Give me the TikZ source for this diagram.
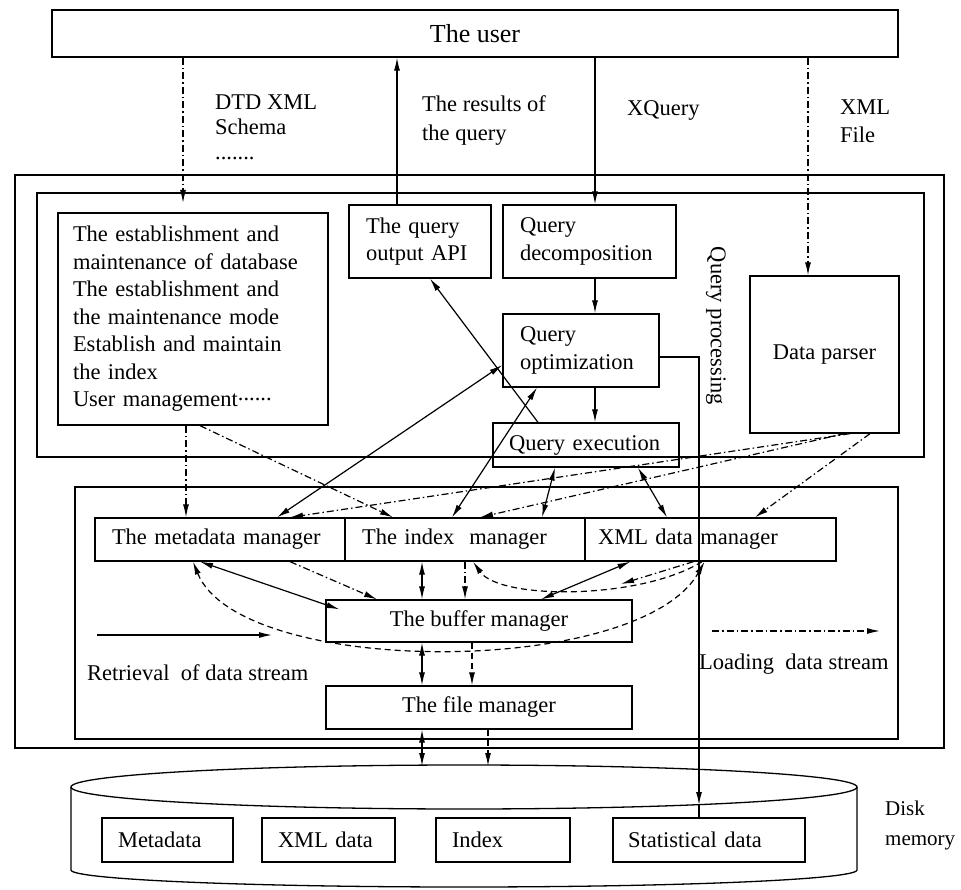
\documentclass[tikz,border=0pt]{standalone}
\usepackage{fontspec}
\setmainfont{Liberation Serif}
\usetikzlibrary{arrows.meta}
\begin{document}
\begin{tikzpicture}[x=1pt,y=-1pt,
  every node/.style={font=\fontsize{22.5}{27.5}\selectfont},
  bx/.style={draw, line width=1.3pt, inner sep=0pt},
  lbx/.style={draw, line width=1.3pt, inner ysep=0pt, inner xsep=17pt, align=left},
  frame/.style={line width=1.3pt},
  ln/.style={line width=1.2pt},
  tip/.style={-{Latex[length=13pt,width=6pt]}},
  dtip/.style={{Latex[length=13pt,width=6pt]}-{Latex[length=13pt,width=6pt]}},
  dd/.style={dash pattern=on 7pt off 3pt on 1.5pt off 3pt},
  dsh/.style={dash pattern=on 6pt off 4pt},
  lbl/.style={anchor=west, align=left, inner sep=0pt}
]
\useasboundingbox (0,0) rectangle (961,890);

% frames
\draw[frame] (15,175) rectangle (944,748);
\draw[frame] (37,193) rectangle (924,457);
\draw[frame] (75,487) rectangle (898,739);

% user
\node[bx, minimum width=846pt, minimum height=47pt, font=\fontsize{26}{30}\selectfont] (user) at (475,33.5) {The user};

% upper boxes
\node[lbx, inner xsep=15pt, text width=240pt, minimum height=212pt] (leftbox) at (193,319)
  {The establishment and\\maintenance of database\\The establishment and\\the maintenance mode\\Establish and maintain\\the index\\User management\raisebox{0.6ex}{......}};
\node[lbx, text width=108pt, minimum height=73pt] (api) at (420,241.5) {The query\\output API};
\node[lbx, text width=139pt, minimum height=73pt] (dec) at (589.5,241.5) {Query\\decomposition};
\node[lbx, text width=122pt, minimum height=73pt] (opt) at (581,350.5) {Query\\optimization};
\node[lbx, inner xsep=16pt, text width=154pt, minimum height=44pt] (exe) at (586,445) {Query execution};
\node[bx, minimum width=149pt, minimum height=157pt] (parser) at (824.5,354.5) {Data parser};
\node[rotate=-90, inner sep=0pt] (qp) at (716,326) {Query processing};

% managers
\node[lbx, text width=216pt, minimum height=43pt] (meta) at (220,539.5) {The metadata manager};
\node[lbx, text width=206pt, minimum height=43pt] (idx) at (465,539.5) {The index\ \ manager};
\node[lbx, inner xsep=13pt, text width=225pt, minimum height=43pt] (xmlm) at (710.5,539.5) {XML data manager};
\node[bx, minimum width=306pt, minimum height=42pt] (buf) at (479,621) {The buffer manager};
\node[bx, minimum width=306pt, minimum height=43pt] (file) at (479,707.5) {The file manager};

% disk
\draw[frame] (464,787) ellipse [x radius=393, y radius=22];
\draw[frame] (71,787) -- (71,870) .. controls (71,879.4) and (247,887) .. (464,887)
   .. controls (681,887) and (857,879.4) .. (857,870) -- (857,787);
\node[lbx, inner xsep=16pt, text width=99pt, minimum height=44pt] (md) at (167.5,840) {Metadata};
\node[lbx, inner xsep=16pt, text width=101pt, minimum height=44pt] (xd) at (328.5,840) {XML data};
\node[lbx, inner xsep=16pt, text width=102pt, minimum height=44pt] (ix) at (503,840) {Index};
\node[lbx, inner xsep=15pt, text width=162pt, minimum height=44pt] (sd) at (709,840) {Statistical data};

% labels
\node[lbl, font=\fontsize{22.5}{25}\selectfont] (dtdl) at (215,127) {DTD XML\\Schema\\.......};
\node[lbl, font=\fontsize{22.5}{29}\selectfont] (resl) at (422,121) {The results of\\the query};
\node[lbl] (xql) at (627,110) {XQuery};
\node[lbl, font=\fontsize{22.5}{28}\selectfont] (xfl) at (840,121) {XML\\File};
\node[lbl] (retl) at (87,673) {Retrieval\ \ of data stream};
\node[lbl] (loadl) at (699,664) {Loading\ \ data stream};
\node[lbl, font=\fontsize{21}{30}\selectfont] (diskl) at (885,825) {Disk\\memory};

% coordinates for free ends
\coordinate (dtdend) at (183,203);
\coordinate (qpt) at (699,805);
\coordinate (ldend) at (621,584);
\coordinate (dk1) at (422,766);
\coordinate (dk2) at (488,766);
\coordinate (r1) at (97,635);
\coordinate (r2) at (272,635);
\coordinate (l1) at (712,631);
\coordinate (l2) at (880,631);

% user connections
\draw[ln,dd,tip] (dtdend |- user.south) -- (dtdend);
\draw[ln,tip] ([xshift=-23pt]api.north) -- ([xshift=-23pt]api.north |- user.south);
\draw[ln,tip] ([xshift=5.5pt]dec.north |- user.south) -- ([xshift=5.5pt]dec.north);
\draw[ln,dd,tip] ([xshift=-16.5pt]parser.north |- user.south) -- ([xshift=-16.5pt]parser.north);

% query pipeline
\draw[ln,tip] ([xshift=5.5pt]dec.south) -- ([xshift=5.5pt]dec.south |- opt.north);
\draw[ln,tip] ([xshift=14pt]opt.south) -- ([xshift=14pt]opt.south |- exe.north);
\draw[ln,tip] ([xshift=-48pt]exe.north) -- ([xshift=10pt]api.south);
\draw[ln,tip] ([yshift=-6.5pt]opt.east) -| (qpt);
\draw[ln] (qpt) -- (qpt |- sd.north);

% query <-> managers
\draw[ln,dtip] ([xshift=57pt]meta.north) -- ([yshift=-14.5pt]opt.west);
\draw[ln,dtip] ([xshift=-13pt]idx.north) -- ([xshift=-44pt]opt.south);
\draw[ln,dtip] ([xshift=-31pt]exe.south) -- ([xshift=77pt]idx.north);
\draw[ln,dtip] ([xshift=52pt]exe.south) -- ([xshift=-43.5pt]xmlm.north);

% loading streams from top
\draw[ln,dd,tip] ([xshift=-7pt]leftbox.south) -- ([xshift=-34pt]meta.north);
\draw[ln,dd,tip] ([xshift=7pt]leftbox.south) -- ([xshift=-72pt]idx.north);
\draw[ln,dd,tip] ([xshift=25.5pt]parser.south) -- ([xshift=70pt]meta.north);
\draw[ln,dd,tip] ([xshift=20pt]parser.south) -- ([xshift=15pt]idx.north);
\draw[ln,dd,tip] ([xshift=45.5pt]parser.south) -- ([xshift=44.5pt]xmlm.north);

% managers <-> buffer
\draw[ln,dtip] ([xshift=-20pt]meta.south) -- ([xshift=14pt,yshift=-10pt]buf.north west);
\draw[ln,dsh,dtip] ([xshift=-27pt]meta.south) .. controls (240,678) and (640,678) .. ([xshift=-6pt]xmlm.south);
\draw[ln,dd,tip] ([xshift=70pt]meta.south) -- ([xshift=-102pt]buf.north);
\draw[ln,dtip] ([xshift=-43pt]idx.south) -- ([xshift=-57pt]buf.north);
\draw[ln,dd,tip] (idx.south) -- ([xshift=-14pt]buf.north);
\draw[ln,dsh,tip] ([xshift=-8.5pt]xmlm.south) .. controls (640,600) and (500,600) .. ([xshift=8pt]idx.south);
\draw[ln,dd,tip] ([xshift=-17pt]xmlm.south) -- (ldend);
\draw[ln,dtip] ([xshift=62pt]buf.north) -- ([xshift=-80pt]xmlm.south);

% buffer <-> file <-> disk
\draw[ln,dtip] ([xshift=-57pt]buf.south) -- ([xshift=-57pt]file.north);
\draw[ln,dsh,tip] ([xshift=-7pt]buf.south) -- ([xshift=-7pt]file.north);
\draw[ln,dtip] ([xshift=-57pt]file.south) -- (dk1);
\draw[ln,dsh,tip] ([xshift=9pt]file.south) -- (dk2);

% legend arrows
\draw[ln,tip] (r1) -- (r2);
\draw[ln,dd,tip] (l1) -- (l2);
\end{tikzpicture}
\end{document}
